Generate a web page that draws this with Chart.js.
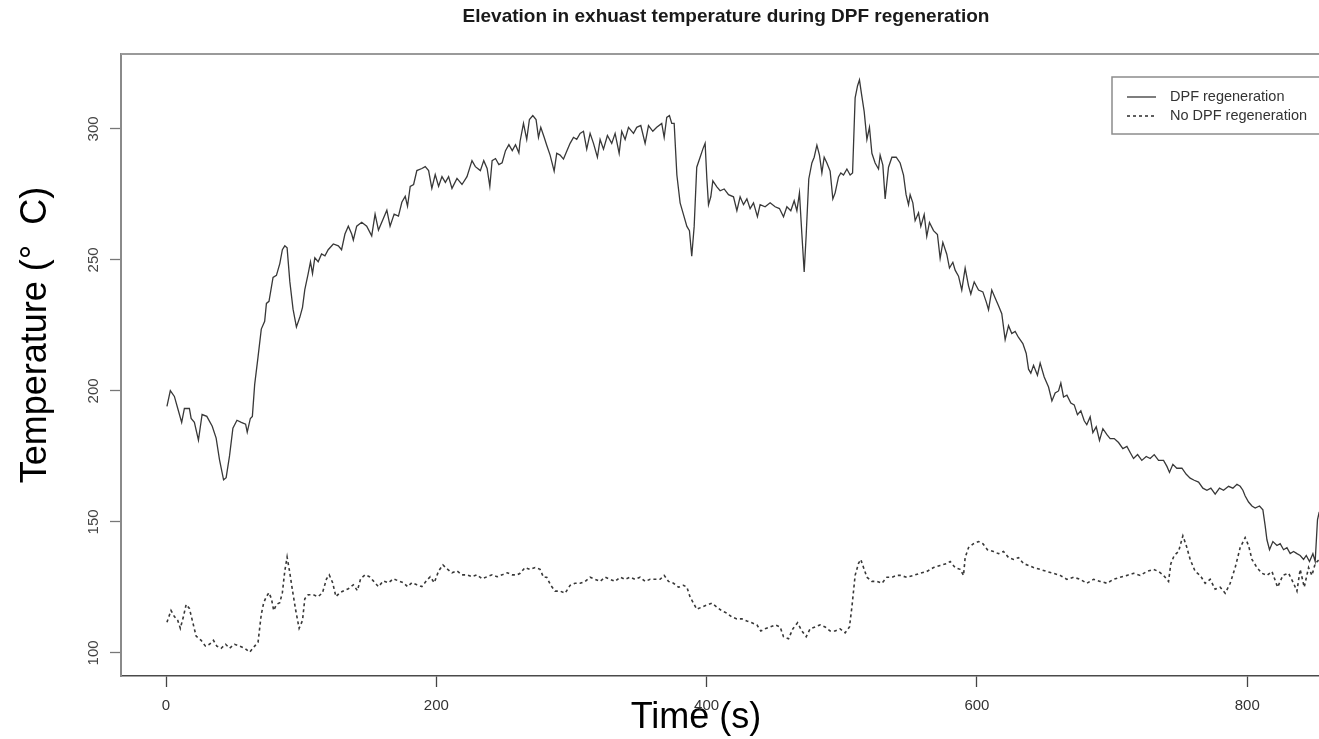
<!DOCTYPE html>
<html>
<head>
<meta charset="utf-8">
<script src="https://cdn.jsdelivr.net/npm/chart.js@4.4.1/dist/chart.umd.min.js"></script>
<style>
  html, body { margin: 0; padding: 0; background: #fff; overflow: hidden; width: 1319px; height: 739px; }
  canvas { display: block; }
</style>
</head>
<body>
<canvas id="c" width="1340" height="739"></canvas>
<script>
const chartTitle = 'Elevation in exhuast temperature during DPF regeneration';
const seriesNames = ['DPF regeneration', 'No DPF regeneration'];
const xTicks = [0, 200, 400, 600, 800];
const yTicks = [100, 150, 200, 250, 300];

const dpfTime = [0.7,3.2,6.2,8.7,11.6,13.6,17.3,18.6,21,24,26.7,30.2,34.2,37.1,39.6,42.6,44.5,47,49.5,52.5,55.7,58.9,60.1,62.4,63.9,65.6,68.1,70.5,73,74.3,76.2,79.2,81.7,84.2,86.1,87.9,89.6,91.6,94,96.5,99,101,102.7,105.2,106.9,108.4,110.1,112.6,115.1,117.6,120,123.8,127.5,129.9,132.4,134.9,137.4,138.6,141.1,144.8,148.5,152.2,154.7,157.2,160.9,163.4,165.8,168.8,172,174.5,177,178.7,180.7,183.2,185.6,189.3,191.8,194.3,196.7,199.2,201.7,204.2,206.7,209.1,211.6,215.3,219,222.7,226.4,228.9,232.6,235.1,237.6,239.6,241.3,243.8,246.3,248.7,251.2,253.7,256.2,258.6,261.1,
262,264.5,266.9,268.9,271.4,273.8,275.6,277.3,279.8,281.7,284.2,287.2,289.1,291.6,294.1,296.5,299,301.5,303.9,306.4,308.9,311.3,313.8,316.3,319.2,321.2,323.7,326.6,329.8,332.3,335.3,337.2,339.7,342.2,345.9,348.3,351.3,354.5,357,360.2,363.1,366.8,368.6,370.5,372.5,374.2,376,378,380.4,382.9,385.4,387.3,389,390.8,392.7,395.2,397.2,398.9,400.2,401.4,403.1,404.6,407.6,410,413,416.2,419.9,422.4,424.8,427.3,429.8,432.2,434.7,437.6,439.6,443.3,447,450.7,453.9,456.9,459.4,462.3,464.8,466.8,468.7,470.5,472.2,473.7,475.6,477.9,479.6,481.6,483.5,485.3,487,489,491.4,493.4,495.1,497.6,499.3,501.3,503.8,506.2,508,509.9,511.7,513.1,514.6,516.6,518.6,520.5,522.3,524.7,527.2,528.4,530.4,532.1,534.6,537.1,540.3,
543.2,545.7,547.6,549.4,550.6,552.6,554.3,556.8,558.5,561,562.9,564.9,567.9,570.8,572.8,574.8,577.7,579.7,582.2,583.9,586.4,588.8,591.3,593.8,595.5,598,601.2,604.4,606.9,608.6,611,613.5,616,618.4,620.9,623.4,625.8,628.3,630.8,634,636.5,638.2,639.9,641.9,644.8,646.8,649.8,653,655.5,657.9,660.4,662.1,664.1,666.6,669.5,672,674.4,676.9,679.4,681.3,683.8,685.8,688.3,690.7,693.2,696.2,698.6,701.6,704.8,708,711,713.4,715.9,718.9,722,725.3,728.2,731.2,734.4,738.1,740.6,742.5,745,747.9,751.7,754.9,757.8,760.8,764,767.2,770.2,773.1,776.3,779.5,782.5,786.2,789.4,792.4,794.8,796.8,798.5,801,803.5,805.9,809.1,811.6,813.3,814.6,816.5,819,822,824.4,826.9,829.4,831.8,834.3,836.8,839.2,841.7,843.7,846.1,848.6,850.3,852,853.3];
const dpfTemp = [194.1,200.1,197.9,193.3,188,193.3,193.3,189.5,188,181.2,191,190.3,186.5,182,173.7,166.1,166.9,175.2,185.8,188.8,188,187.3,184.3,189.5,190.3,202.4,213,223.6,226.6,233.4,234.2,243.3,244.1,248.6,253.9,255.4,254.6,241.8,231.2,224.4,228.1,231.9,238.7,244.8,249.3,244.8,250.8,249.3,252.3,251.6,253.9,256.1,255.4,253.9,259.9,262.9,259.9,257.6,262.9,264.4,262.9,259.2,267.5,261.4,265.9,269,262.9,267.5,266.7,272,274.3,270.5,278.1,278.8,284.1,284.9,285.6,284.1,277.3,282.6,278.1,281.8,279.6,281.8,277.3,281.1,278.8,281.8,287.9,285.6,284.1,287.9,284.9,278.1,287.9,288.7,286.4,287.1,291.7,294,291.7,294,290.9,
295.3,302.1,296,303.6,305.1,303.6,296.8,300.6,296.8,293.8,290,283.9,290.7,290,288.5,291.5,294.5,296.8,296,298.3,299.1,292.3,298.3,294.5,289.2,296,292.3,297.5,294.5,298.3,290.7,299.1,296,300.6,298.3,300.6,301.3,294.5,301.3,299.1,300.6,302.1,296.8,304.4,305.1,302.1,302.1,282.4,271.8,267.3,262.8,261.2,251.4,262.8,285.4,289.2,292.3,294.5,280.9,271.1,274.1,280.2,277.9,276.4,277.1,274.9,274.1,268.8,274.1,271.1,273.3,269.6,271.8,266.5,271.1,270.3,271.8,270.3,269.6,266.5,270.3,268.8,272.6,268.8,275.6,259.7,245.4,259.7,280.9,287,289.2,293.8,290,283.2,289.2,287,283.9,273.3,275.6,281.7,283.2,282.4,284.7,282.4,283.2,311.9,316.5,318.7,313.4,306.6,296,300.6,290.7,287,284.7,290,286.2,273.3,285.4,289.2,289.2,
287,282.4,274.9,271.1,274.9,271.8,265,268,262.8,267.3,259,264.3,261.2,259.7,250.6,256.7,252.2,246.9,249.1,246.1,243.8,238.5,246.9,240.1,237,241.6,238.5,237.8,234,231,238.5,235.5,232.5,229.5,219.6,224.9,221.9,222.7,220.4,218.1,214.3,208.3,206.8,209.8,206,210.6,205.3,201.5,196.2,199.2,200,203,197.7,198.4,195.4,194.7,190.9,192.4,188.6,187.1,190.1,184.1,186.3,181.1,185.6,183.3,181.8,181.8,180.3,178,178.8,176.5,174.2,175.7,173.5,175,174.2,175.7,173.5,173.5,171.2,168.9,172,170.5,170.5,168.2,166.7,165.9,165.2,162.9,162.1,162.9,160.6,162.9,162.1,163.6,162.9,164.4,163.6,162.1,159.9,157.6,156.1,155.3,156.1,154.6,148.5,143.2,139.4,142.5,141,141.7,139.4,140.2,137.9,138.7,137.9,137.2,135.7,137.2,134.9,137.9,134.9,150.8,153.8];

const noDpfTime = [0.7,3.7,6.2,8.7,10.6,12.9,14.9,17.3,19.8,22.3,26,29.2,32.2,35.1,37.6,40.8,44.1,47,50.7,54.5,58.2,61.9,65.6,68.1,70.5,72.3,74.3,76.2,78,79.7,81.7,84.2,86.1,87.9,89.6,91.6,93.6,96,98.5,101,102.7,105.2,108.9,112.6,115.8,118.8,120.8,123.3,125.7,128.7,131.7,134.9,138.6,141.6,144,147.3,150.5,153.4,157.2,160.9,164.6,168.3,172,175.7,178.7,181.9,185.6,189.3,192.6,195.5,198.5,201.7,204.9,207.9,211.6,215.3,219,222.7,226.4,230.1,233.9,237.6,241.3,245,248.7,252.5,256.2,259.9,
262,265.7,269.4,273.1,276.8,279.3,281.7,284.7,287.9,291.6,295.3,299,302.7,306.4,310.1,313.8,317.5,321.2,324.9,328.6,332.3,336,339.7,343.4,347.1,350.8,354.5,358.2,361.9,365.6,368.6,371.8,375.5,379.2,382.9,385.4,387.8,390.3,392.7,396.5,400.2,403.9,407.6,411.3,415,418.7,422.4,426.1,429.8,433.5,437.2,440.1,443.3,447,450.7,454.4,456.9,460.6,463.8,467.3,470.5,473.7,476.6,480.3,484,487.7,491.4,495.1,498.8,502.5,505.7,507.5,509.9,512.4,514.1,516.1,518.6,522.3,526,529.7,533.4,537.1,540.8,
543.2,548.1,553.1,558,562.9,567.9,572.8,577.7,580.2,583.9,587.6,590.1,591.3,593.8,597.5,601.2,604.4,607.8,612.3,616,619.7,623.4,627.1,630.8,634.5,638.2,641.9,646.8,651.7,656.7,661.6,666.6,671.5,676.4,681.3,686.3,691.2,696.2,701.1,706,711,715.9,720.8,725.8,730.7,734.4,738.1,741.8,743.5,746,749.2,752.4,754.9,757.8,761.5,765.2,768.9,772.6,776.3,780,783.7,787.4,791.1,794.8,798.5,801,803.5,807.2,810.9,814.6,818.3,822.5,826.4,830.6,834.3,836.8,839.2,842.2,845.4,847.9,850.3,853.3];
const noDpfTemp = [111.7,116.2,113.9,112.4,109.4,113.9,118.5,117,111.7,106.4,104.8,102.6,103.3,104.8,102.6,101.8,103.3,101.8,103.3,102.6,101.8,100.3,102.6,104.1,114.7,119.2,121.5,123,120.7,116.2,118.5,119.2,123,131.3,136.6,130.6,123.8,116.2,109.4,112.4,120.7,122.2,122.2,121.5,123,128.3,129.8,126.8,121.5,123,123.8,124.5,126,123.8,128.3,129.8,129.1,127.5,125.3,127.5,126.8,128.3,127.5,126.8,125.3,126.8,126,125.3,127.5,129.1,126.8,131.3,133.6,132.1,130.6,131.3,129.8,129.8,129.1,129.8,128.3,129.1,129.8,129.1,129.8,130.6,129.8,129.8,
130.4,132.6,131.9,132.6,131.9,128.9,128.9,125.8,123.6,123.6,122.8,125.8,126.6,126.6,127.3,128.9,128.1,127.3,128.9,128.1,127.3,128.9,128.1,128.9,128.1,128.9,127.3,128.1,128.1,128.1,129.6,127.3,126.6,125.1,125.8,125.1,121.3,119,116.7,117.5,118.3,119,117.5,116,115.2,113.7,113,113,112.2,111.5,110.7,108.4,109.2,109.9,110.7,109.9,106.2,105.4,109.2,111.5,108.4,106.2,109.2,109.9,110.7,109.9,108.4,108.4,109.2,107.7,109.9,117.5,129.6,134.2,135.7,132.6,128.9,127.3,127.3,126.6,128.9,128.9,129.6,
129.6,128.9,129.6,130.4,131.1,132.6,133.4,134.1,134.9,132.6,131.9,129.6,136.4,140.2,141.7,142.5,141.7,139.4,138.7,137.9,138.7,136.4,135.7,136.4,134.1,133.4,132.6,131.9,131.1,130.4,129.6,128.1,128.9,128.1,126.6,128.1,127.3,126.6,128.1,128.9,129.6,130.4,129.6,131.1,131.9,131.1,129.6,127.3,134.1,137.2,138.7,144.7,141,135.7,131.1,129.6,126.6,128.1,124.3,125.1,122.8,126.6,132.6,140.2,144,141,135.7,132.6,130.4,129.6,131.1,125.1,129.6,130.4,126.6,123.6,131.9,125.1,132.6,129.6,134.1,135.7];

const toPoints = (xs, ys) => xs.map((x, i) => ({ x: x, y: ys[i] }));

const framePlugin = {
  id: 'frame',
  afterDatasetsDraw(chart) {
    const { ctx, chartArea: a } = chart;
    ctx.save();
    ctx.strokeStyle = '#9a9a9a';
    ctx.lineWidth = 2;
    ctx.beginPath();
    ctx.moveTo(a.left, a.top);
    ctx.lineTo(a.right, a.top);
    ctx.lineTo(a.right, a.bottom);
    ctx.stroke();
    ctx.restore();
  }
};

const legendPlugin = {
  id: 'boxLegend',
  afterDraw(chart) {
    const { ctx, chartArea: a } = chart;
    const x0 = a.right - 219, y0 = a.top + 23, w = 240, h = 57;
    ctx.save();
    ctx.fillStyle = '#fff';
    ctx.fillRect(x0, y0, w, h);
    ctx.strokeStyle = '#8c8c8c';
    ctx.lineWidth = 1.5;
    ctx.strokeRect(x0, y0, w, h);
    chart.data.datasets.forEach((ds, i) => {
      const y = y0 + 20 + i * 19;
      ctx.beginPath();
      ctx.setLineDash(ds.borderDash || []);
      ctx.strokeStyle = ds.borderColor;
      ctx.lineWidth = ds.borderWidth;
      ctx.moveTo(x0 + 15, y);
      ctx.lineTo(x0 + 44, y);
      ctx.stroke();
      ctx.setLineDash([]);
      ctx.fillStyle = '#333';
      ctx.font = '14.5px "Liberation Sans", Arial, sans-serif';
      ctx.textBaseline = 'middle';
      ctx.textAlign = 'left';
      ctx.fillText(ds.label, x0 + 58, y);
    });
    ctx.restore();
  }
};

new Chart(document.getElementById('c'), {
  type: 'line',
  data: {
    datasets: [
      {
        label: seriesNames[0],
        data: toPoints(dpfTime, dpfTemp),
        borderColor: '#383838',
        borderWidth: 1.3,
        pointRadius: 0,
        tension: 0,
        fill: false
      },
      {
        label: seriesNames[1],
        data: toPoints(noDpfTime, noDpfTemp),
        borderColor: '#383838',
        borderWidth: 1.6,
        borderDash: [3, 3],
        pointRadius: 0,
        tension: 0,
        fill: false
      }
    ]
  },
  options: {
    responsive: false,
    animation: false,
    devicePixelRatio: 1,
    layout: { padding: { left: 0, top: 0, right: 9, bottom: 0 } },
    font: { family: '"Liberation Sans", Arial, sans-serif' },
    plugins: {
      legend: { display: false },
      tooltip: { enabled: false },
      title: {
        display: true,
        text: chartTitle,
        fullSize: false,
        color: '#1a1a1a',
        font: { family: '"Liberation Sans", Arial, sans-serif', size: 19, weight: 'bold', lineHeight: 1.2 },
        padding: { top: 5.6, bottom: 25.6 }
      }
    },
    scales: {
      x: {
        type: 'linear',
        position: 'bottom',
        min: -33.3,
        max: 862,
        afterBuildTicks: (s) => { s.ticks = xTicks.map(v => ({ value: v })); },
        afterFit: (s) => { s.height = 63; },
        ticks: {
          autoSkip: false,
          maxRotation: 0,
          minRotation: 0,
          padding: 10,
          color: '#333',
          font: { family: '"Liberation Sans", Arial, sans-serif', size: 15 }
        },
        grid: { drawOnChartArea: false, drawTicks: true, tickLength: 11, tickColor: '#444', tickWidth: 1.3 },
        border: { display: true, color: '#4a4a4a', width: 1.5 },
        title: {
          display: true,
          text: 'Time (s)      ',
          color: '#000',
          font: { family: '"Liberation Sans", Arial, sans-serif', size: 36, lineHeight: 1 },
          padding: { top: 0, bottom: 2.5 }
        }
      },
      y: {
        type: 'linear',
        position: 'left',
        min: 91.2,
        max: 328.6,
        afterBuildTicks: (s) => { s.ticks = yTicks.map(v => ({ value: v })); },
        afterFit: (s) => { s.width = 121; },
        ticks: {
          autoSkip: false,
          minRotation: 90,
          maxRotation: 90,
          crossAlign: 'center',
          padding: 4,
          color: '#444',
          font: { family: '"Liberation Sans", Arial, sans-serif', size: 15 }
        },
        grid: { drawOnChartArea: false, drawTicks: true, tickLength: 11, tickColor: '#777', tickWidth: 1.3 },
        border: { display: true, color: '#8a8a8a', width: 2 },
        title: {
          display: true,
          text: '      Temperature (°  C)',
          color: '#000',
          font: { family: '"Liberation Sans", Arial, sans-serif', size: 36, lineHeight: 1 },
          padding: { top: 18, bottom: 0 }
        }
      }
    }
  },
  plugins: [framePlugin, legendPlugin]
});
</script>
</body>
</html>
